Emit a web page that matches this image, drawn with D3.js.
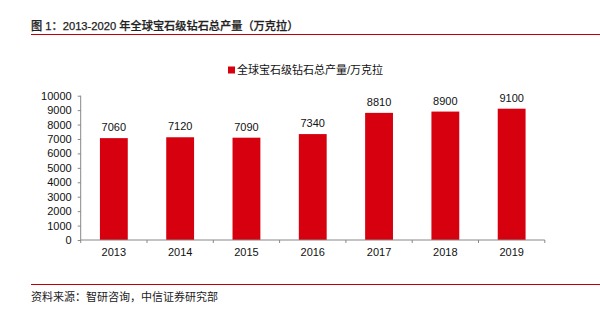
<!DOCTYPE html>
<html><head><meta charset="utf-8">
<script src="https://cdn.jsdelivr.net/npm/d3@7"></script>
<style>
body{margin:0;background:#fff;}
text{font-family:"Liberation Sans","Noto Sans CJK SC",Arial,sans-serif;}
</style></head>
<body>
<svg id="c" width="600" height="325"></svg>
<script>
const categories = ["2013","2014","2015","2016","2017","2018","2019"];
const values = [7060,7120,7090,7340,8810,8900,9100];
const yTicks = [0,1000,2000,3000,4000,5000,6000,7000,8000,9000,10000];
const seriesName = "全球宝石级钻石总产量/万克拉";
const title = "图 1：2013-2020 年全球宝石级钻石总产量（万克拉）";
const source = "资料来源：智研咨询，中信证券研究部";

const svg = d3.select("#c");
const red = "#D7000F";

svg.append("text").attr("x",31).attr("y",30)
  .attr("font-size",11.2).attr("font-weight",500).attr("fill","#222")
  .attr("stroke","#222").attr("stroke-width",0.25).text(title);
svg.append("line").attr("x1",31).attr("x2",600).attr("y1",34.5).attr("y2",34.5)
  .attr("stroke","#C00000").attr("stroke-width",1.2);
svg.append("line").attr("x1",31).attr("x2",600).attr("y1",284.5).attr("y2",284.5)
  .attr("stroke","#C00000").attr("stroke-width",1.2);
svg.append("text").attr("x",31).attr("y",301)
  .attr("font-size",11).attr("fill","#222").text(source);

// legend
svg.append("rect").attr("x",228).attr("y",66.5).attr("width",7).attr("height",7).attr("fill",red);
svg.append("text").attr("x",237).attr("y",74)
  .attr("font-size",11).attr("fill","#111").text(seriesName);

const x = d3.scaleBand().domain(categories).range([80.7,544.8]).paddingInner(0.58).paddingOuter(0.29);
const y = d3.scaleLinear().domain([0,10000]).range([240,95.7]);

const g = svg.append("g");
g.selectAll("rect.bar").data(values).enter().append("rect").attr("class","bar")
  .attr("x",(d,i)=>x(categories[i])).attr("width",x.bandwidth())
  .attr("y",d=>y(d)).attr("height",d=>y(0)-y(d)).attr("fill",red);
g.selectAll("text.lbl").data(values).enter().append("text").attr("class","lbl")
  .attr("x",(d,i)=>x(categories[i])+x.bandwidth()/2).attr("y",d=>y(d)-7)
  .attr("text-anchor","middle").attr("font-size",11).attr("fill","#111").text(d=>d);

// y axis
const ya = svg.append("g").attr("transform","translate(80.7,0)")
  .call(d3.axisLeft(y).tickValues(yTicks).tickSize(3).tickPadding(6).tickFormat(d3.format("d")));
ya.select(".domain").attr("stroke","#888").attr("d","M0,95.7V240");
ya.selectAll(".tick line").attr("stroke","#888");
ya.selectAll("text").attr("font-size",11).attr("fill","#111").attr("font-family","Liberation Sans, Arial, sans-serif");

// x axis
const xa = svg.append("g").attr("transform","translate(0,240)")
  .call(d3.axisBottom(x).tickSize(0).tickPadding(8));
xa.select(".domain").attr("stroke","#888").attr("d","M80.7,0H544.8");
xa.selectAll("text").attr("font-size",11).attr("fill","#111").attr("font-family","Liberation Sans, Arial, sans-serif");
const bounds = d3.range(categories.length+1).map(i=>80.7+i*x.step());
svg.append("g").selectAll("line").data(bounds).enter().append("line")
  .attr("x1",d=>d).attr("x2",d=>d).attr("y1",240).attr("y2",243).attr("stroke","#888");
</script>
</body></html>
